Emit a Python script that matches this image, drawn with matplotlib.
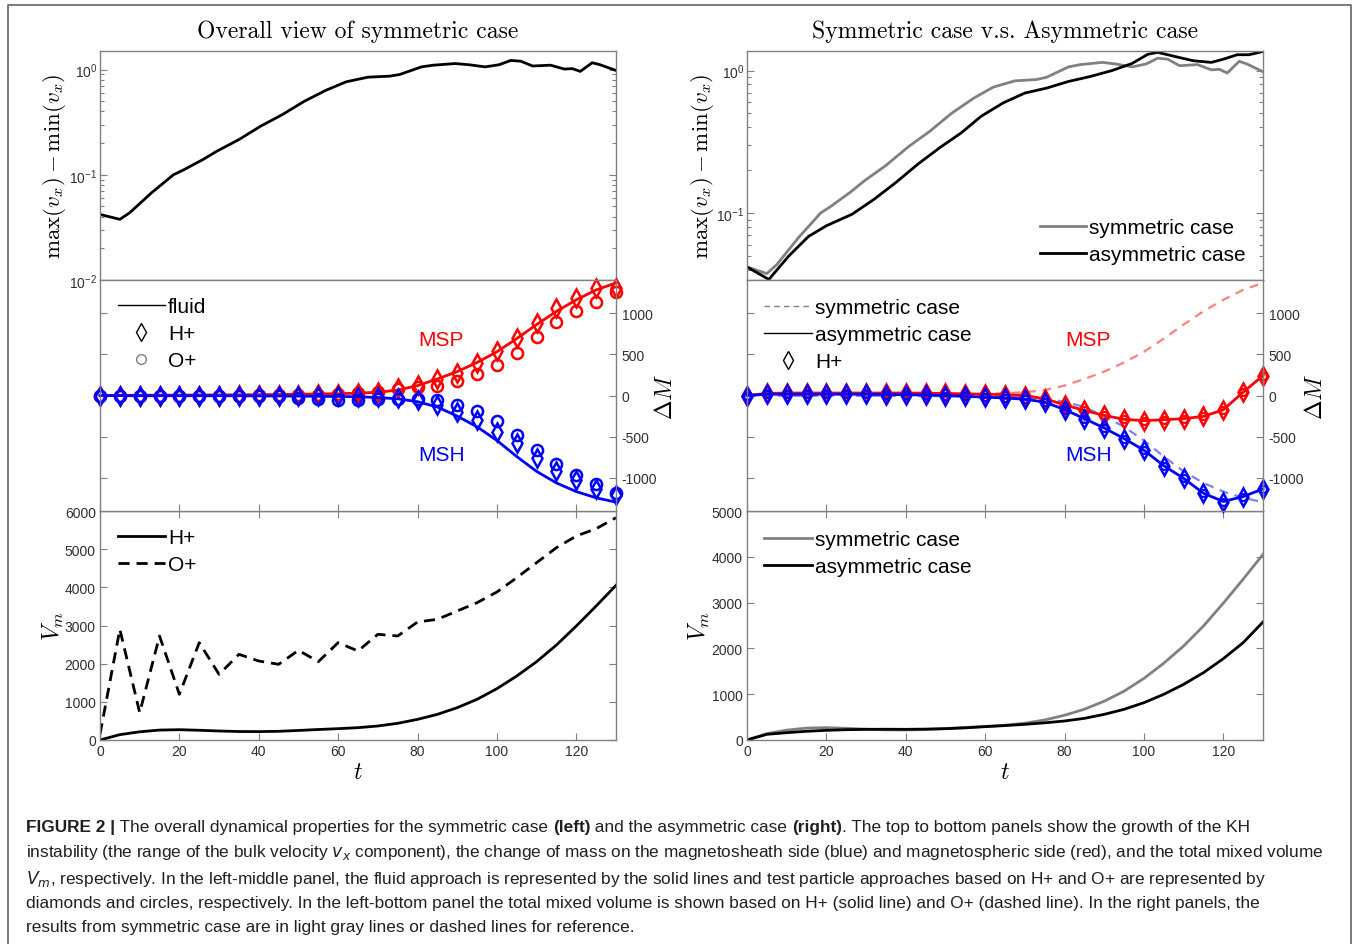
import numpy as np
import matplotlib
matplotlib.use("Agg")
import matplotlib.pyplot as plt
from matplotlib.lines import Line2D
from matplotlib import font_manager
from matplotlib.ticker import NullFormatter, NullLocator

# ---------------- data ----------------
# top panels: max(vx)-min(vx)
t_growth_sym = [0, 5, 7.5, 13, 18.5, 21, 26, 29.5, 35, 40.5, 46, 51.5, 57, 62, 67.5, 73, 75.5,
                81, 84, 89.5, 93, 97, 100.5, 103.5, 106, 109, 113.5, 117, 119, 121, 124, 126, 130]
growth_sym = [0.042, 0.0377, 0.0436, 0.0675, 0.1, 0.111, 0.14, 0.168, 0.216, 0.29, 0.374, 0.5,
              0.637, 0.764, 0.846, 0.865, 0.897, 1.06, 1.1, 1.14, 1.11, 1.06, 1.11, 1.22, 1.2,
              1.08, 1.1, 1.01, 1.02, 0.96, 1.16, 1.11, 0.98]
t_growth_asym = [0, 5.5, 10.5, 15.5, 20, 26.5, 32, 37.5, 43, 48.5, 54, 59, 64.5, 70, 75.5, 81,
                 86.5, 92, 97, 101, 103.5, 108, 112.5, 117, 120, 123.5, 126.5, 130]
growth_asym = [0.042, 0.0343, 0.050, 0.0687, 0.0816, 0.0984, 0.125, 0.164, 0.22, 0.287, 0.366,
               0.478, 0.592, 0.695, 0.753, 0.838, 0.908, 1.0, 1.12, 1.3, 1.34, 1.25, 1.17, 1.14,
               1.2, 1.29, 1.29, 1.36]

# middle panels: change of mass, sampled every 5 time units
t_mass = list(range(0, 131, 5))
msp_fluid_sym = [0, 2, 3, 4, 5, 6, 7, 8, 10, 12, 15, 18, 22, 28, 40, 65, 120, 200, 290, 400,
                 530, 690, 860, 1020, 1160, 1280, 1365]
msh_fluid_sym = [0, -2, -3, -3, -3, -3, -3, -4, -5, -6, -8, -10, -12, -15, -25, -40, -75, -140,
                 -250, -380, -545, -740, -920, -1060, -1165, -1240, -1293]
msp_H_sym = [0, 0, 0, 0, 0, 0, 0, 2, 3, 5, 10, 15, 20, 25, 40, 88, 128, 200, 269, 394, 542, 695,
             883, 1056, 1185, 1305, 1300]
msp_O_sym = [0, -12, -12, -12, -10, -5, -3, 0, 2, 5, 8, 10, 15, 25, 45, 80, 108, 112, 170, 260,
             370, 520, 715, 885, 1025, 1135, 1255]
msh_H_sym = [0, -3, -3, -3, -3, -3, -3, -3, -3, -3, -5, -8, -12, -15, -20, -35, -60, -110, -200,
             -300, -440, -580, -760, -915, -1025, -1135, -1205]
msh_O_sym = [0, -3, -3, -3, -3, -3, -3, -3, -5, -10, -25, -45, -60, -60, -45, -40, -40, -55,
             -110, -190, -315, -475, -660, -825, -965, -1070, -1185]
msp_asym = [0, 25, 30, 30, 30, 30, 30, 30, 30, 28, 25, 20, 15, 10, 0, -40, -112, -181, -241,
            -289, -305, -293, -281, -253, -173, 40, 241]
msh_asym = [0, 15, 15, 15, 15, 15, 15, 12, 10, 5, 0, -10, -20, -30, -45, -80, -170, -280, -394,
            -522, -663, -851, -1004, -1185, -1285, -1225, -1133]

# bottom panels: total mixed volume
t_vol = list(range(0, 131, 5))
vm_sym_H = [0, 140, 215, 260, 270, 255, 236, 222, 220, 228, 250, 275, 297, 323, 367, 437, 541,
            672, 847, 1066, 1345, 1677, 2052, 2489, 2987, 3511, 4052]
vm_sym_O = [150, 2900, 716, 2725, 1197, 2550, 1720, 2245, 2070, 1983, 2350, 2052, 2550, 2332,
            2769, 2725, 3092, 3162, 3380, 3598, 3878, 4253, 4646, 5039, 5345, 5537, 5825]
vm_asym_H = [0, 124, 160, 190, 211, 225, 233, 235, 233, 238, 247, 265, 291, 315, 342, 375, 415,
             473, 560, 670, 815, 997, 1215, 1470, 1776, 2125, 2576]

x_ticks = [0, 20, 40, 60, 80, 100, 120]
dm_ticks = [-1000, -500, 0, 500, 1000]

# ---------------- style ----------------
def have(name):
    try:
        font_manager.findfont(name, fallback_to_default=False)
        return True
    except Exception:
        return False

SANS = 'Liberation Sans' if have('Liberation Sans') else 'DejaVu Sans'
NARROW = 'Liberation Sans Narrow' if have('Liberation Sans Narrow') else SANS

plt.rcParams['font.family'] = [SANS, 'DejaVu Sans']
plt.rcParams['mathtext.fontset'] = 'cm'
plt.rcParams['axes.unicode_minus'] = False

W, H = 1356, 945
fig = plt.figure(figsize=(W / 100, H / 100), dpi=100)

def rect(x0, y0, x1, y1):
    return [x0 / W, 1 - y1 / H, (x1 - x0) / W, (y1 - y0) / H]

SPINE = '#808080'
TICKC = '#303030'
RED, BLUE = '#ff0000', '#0000ff'
LRED, LBLUE = '#ff8080', '#8080ff'
GRAY = '#808080'
TICKFS = 10
LEGFS = 15
LABFS = 16.5
LEGKW = dict(frameon=False, fontsize=LEGFS, handletextpad=0.15, borderpad=0,
             borderaxespad=0, labelspacing=0.38)

cols = [(100, 616), (747, 1263)]
rows = [(52, 281), (281, 512), (512, 741)]

def style(ax):
    for s in ax.spines.values():
        s.set_color(SPINE)
        s.set_linewidth(1.0)
    ax.tick_params(which='both', direction='in', colors=SPINE, labelcolor=TICKC,
                   labelsize=TICKFS, length=5, width=0.8)
    ax.tick_params(which='minor', length=3)

axes = {}
for ci, (x0, x1) in enumerate(cols):
    for ri, (y0, y1) in enumerate(rows):
        ax = fig.add_axes(rect(x0, y0, x1, y1))
        style(ax)
        ax.set_xlim(0, 130)
        axes[(ri, ci)] = ax

# ---------- top panels ----------
for ci in range(2):
    ax = axes[(0, ci)]
    ax.set_yscale('log')
    ax.xaxis.set_major_locator(NullLocator())
    ax.tick_params(axis='y', which='both', left=True, right=True, pad=2)
    ax.yaxis.set_minor_formatter(NullFormatter())

axL = axes[(0, 0)]
axL.plot(t_growth_sym, growth_sym, color='black', lw=2)
axL.set_ylim(0.01, 1.5)
axL.set_yticks([0.01, 0.1, 1])
axL.set_title('Overall view of symmetric case', fontfamily='cmr10', fontsize=17,
              y=1 + (52 - 32) / 229, va='center', pad=0)
axL.set_ylabel(r'$\max(v_x)-\min(v_x)$', fontsize=LABFS, va='center')
axL.yaxis.set_label_coords((55 - 100) / 516, 0.5)

axR = axes[(0, 1)]
axR.plot(t_growth_sym, growth_sym, color=GRAY, lw=2, label='symmetric case')
axR.plot(t_growth_asym, growth_asym, color='black', lw=2, label='asymmetric case')
axR.set_ylim(0.034, 1.37)
axR.set_yticks([0.1, 1])
axR.set_title('Symmetric case v.s. Asymmetric case', fontfamily='cmr10', fontsize=17,
              y=1 + (52 - 32) / 229, va='center', pad=0)
axR.set_ylabel(r'$\max(v_x)-\min(v_x)$', fontsize=LABFS, va='center')
axR.yaxis.set_label_coords((702 - 747) / 516, 0.5)
axR.legend(loc='upper left', bbox_to_anchor=((1040 - 747) / 516, 1 - (219 - 52) / 229),
           handlelength=2.2, **LEGKW)

# ---------- middle panels ----------
for ci in range(2):
    ax = axes[(1, ci)]
    ax.set_zorder(5)
    ax.set_ylim(-1400, 1400)
    ax.set_yticks(dm_ticks)
    ax.set_xticks(x_ticks)
    ax.tick_params(axis='x', labelbottom=False, bottom=True, top=False)
    ax.tick_params(axis='y', left=True, right=True, labelleft=False, labelright=True, pad=4)
    ax.yaxis.set_label_position('right')
    ax.set_ylabel(r'$\Delta M$', fontsize=17, va='center', rotation=90)

mk = dict(ls='none', mfc='none', mew=1.8, clip_on=False)
axM = axes[(1, 0)]
axM.plot(t_mass, msp_O_sym, marker='o', ms=8, color=RED, **mk)
axM.plot(t_mass, msp_H_sym, marker='d', ms=9, color=RED, **mk)
axM.plot(t_mass, msp_fluid_sym, color=RED, lw=2, clip_on=False)
axM.plot(t_mass, msh_O_sym, marker='o', ms=8, color=BLUE, **mk)
axM.plot(t_mass, msh_H_sym, marker='d', ms=9, color=BLUE, **mk)
axM.plot(t_mass, msh_fluid_sym, color=BLUE, lw=2, clip_on=False)
axM.yaxis.set_label_coords((666 - 100) / 516, 0.5)
axM.text(86, 675, 'MSP', color=RED, fontsize=LEGFS, ha='center', va='center')
axM.text(86, -710, 'MSH', color=BLUE, fontsize=LEGFS, ha='center', va='center')
hM = [Line2D([], [], color='black', lw=1),
      Line2D([], [], ls='none', marker='d', ms=9, mfc='none', mec='black', mew=1),
      Line2D([], [], ls='none', marker='o', ms=7, mfc='none', mec=GRAY, mew=1)]
axM.legend(hM, ['fluid', 'H+', 'O+'], loc='upper left',
           bbox_to_anchor=((118 - 100) / 516, 1 - (298 - 281) / 231),
           handlelength=2.25, **LEGKW)

axN = axes[(1, 1)]
axN.plot(t_mass, msp_fluid_sym, color=LRED, lw=1.6, ls=(0, (4, 3)))
axN.plot(t_mass, msh_fluid_sym, color=LBLUE, lw=1.6, ls=(0, (4, 3)))
axN.plot(t_mass, msp_asym, color=RED, lw=2, marker='d', ms=9, mfc='none', mew=1.8, clip_on=False)
axN.plot(t_mass, msp_asym, ls='none', color=RED, marker='o', ms=5, mfc='none', mew=1.5, clip_on=False)
axN.plot(t_mass, msh_asym, color=BLUE, lw=2, marker='d', ms=9, mfc='none', mew=1.8, clip_on=False)
axN.plot(t_mass, msh_asym, ls='none', color=BLUE, marker='o', ms=5, mfc='none', mew=1.5, clip_on=False)
axN.yaxis.set_label_coords((1316 - 747) / 516, 0.5)
axN.text(86, 675, 'MSP', color=RED, fontsize=LEGFS, ha='center', va='center')
axN.text(86, -710, 'MSH', color=BLUE, fontsize=LEGFS, ha='center', va='center')
hN = [Line2D([], [], color=GRAY, lw=1, ls=(0, (4, 3))),
      Line2D([], [], color='black', lw=1),
      Line2D([], [], ls='none', marker='d', ms=9, mfc='none', mec='black', mew=1)]
axN.legend(hN, ['symmetric case', 'asymmetric case', 'H+'], loc='upper left',
           bbox_to_anchor=((764 - 747) / 516, 1 - (299 - 281) / 231),
           handlelength=2.3, **LEGKW)

# ---------- bottom panels ----------
for ci in range(2):
    ax = axes[(2, ci)]
    ax.set_xticks(x_ticks)
    ax.tick_params(axis='x', top=True, bottom=True, pad=3)
    ax.tick_params(axis='y', left=True, right=True, pad=3)
    ax.set_xlabel(r'$t$', fontsize=17, va='center')
    ax.xaxis.set_label_coords(0.5, -(773 - 741) / 229)
    ax.set_ylabel(r'$V_m$', fontsize=17, va='center')

axB = axes[(2, 0)]
axB.plot(t_vol, vm_sym_H, color='black', lw=2, label='H+')
axB.plot(t_vol, vm_sym_O, color='black', lw=2, ls=(0, (4, 2.5)), label='O+')
axB.set_ylim(0, 6000)
axB.set_yticks(range(0, 6001, 1000))
axB.yaxis.set_label_coords((53 - 100) / 516, 0.5)
axB.legend(loc='upper left', bbox_to_anchor=((118 - 100) / 516, 1 - (529 - 512) / 229),
           handlelength=2.25, **LEGKW)

axC = axes[(2, 1)]
axC.plot(t_vol, vm_sym_H, color=GRAY, lw=2, label='symmetric case')
axC.plot(t_vol, vm_asym_H, color='black', lw=2, label='asymmetric case')
axC.set_ylim(0, 5000)
axC.set_yticks(range(0, 5001, 1000))
axC.yaxis.set_label_coords((699 - 747) / 516, 0.5)
axC.legend(loc='upper left', bbox_to_anchor=((764 - 747) / 516, 1 - (531 - 512) / 229),
           handlelength=2.3, **LEGKW)

# ---------- frame ----------
fx = lambda px: px / W
fy = lambda py: 1 - py / H
fig.add_artist(Line2D([fx(8), fx(8), fx(1351), fx(1351)], [0, fy(6), fy(6), 0],
                      transform=fig.transFigure, color='#707070', lw=1.3))

# ---------- caption ----------
cap_lines = [
    [("FIGURE 2 |", True), (" The overall dynamical properties for the symmetric case ", False),
     ("(left)", True), (" and the asymmetric case ", False), ("(right)", True),
     (". The top to bottom panels show the growth of the KH", False)],
    [("instability (the range of the bulk velocity $v_x$ component), the change of mass on the "
      "magnetosheath side (blue) and magnetospheric side (red), and the total mixed volume", False)],
    [("$V_m$, respectively. In the left-middle panel, the fluid approach is represented by the "
      "solid lines and test particle approaches based on H+ and O+ are represented by", False)],
    [("diamonds and circles, respectively. In the left-bottom panel the total mixed volume is "
      "shown based on H+ (solid line) and O+ (dashed line). In the right panels, the", False)],
    [("results from symmetric case are in light gray lines or dashed lines for reference.", False)],
]
cap_y = [828, 853, 879, 904, 928]
CAPFS = 12.5
cap_texts = []
line_first = []
for yy, pieces in zip(cap_y, cap_lines):
    prev = None
    for k, (s, bold) in enumerate(pieces):
        kw = dict(fontsize=CAPFS, fontfamily=[NARROW, 'DejaVu Sans'],
                  fontweight='bold' if bold else 'normal', color='#231f20',
                  math_fontfamily='dejavusans')
        if prev is None:
            t = fig.text(fx(26), fy(yy), s, ha='left', va='center', **kw)
            line_first.append(t)
        else:
            t = fig.text(0, 0, s, ha='left', va='center', **kw)
            t._prev = prev
        cap_texts.append(t)
        prev = t

renderer = fig.canvas.get_renderer()

def layout_caption():
    for t in cap_texts:
        p = getattr(t, '_prev', None)
        if p is not None:
            bb = p.get_window_extent(renderer)
            py = p.get_position()[1]
            t.set_position((bb.x1 / W, py))

layout_caption()
# fit width of second line to the reference (26 -> 1323 px)
bb = line_first[1].get_window_extent(renderer)
scale = (1323 - 26) / bb.width
for t in cap_texts:
    t.set_fontsize(CAPFS * scale)
layout_caption()

fig.savefig('out.png', dpi=100)
